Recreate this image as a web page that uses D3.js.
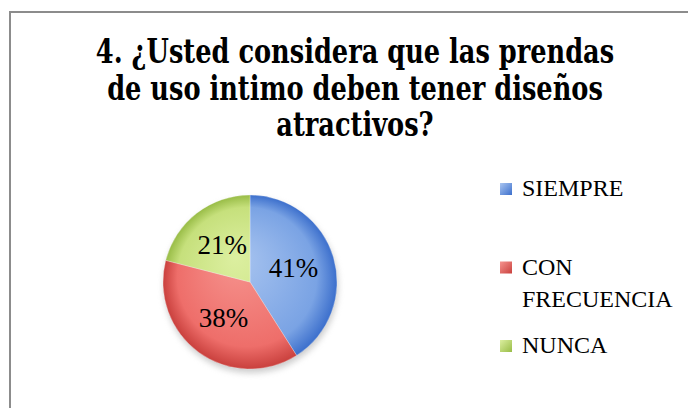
<!DOCTYPE html>
<html>
<head>
<meta charset="utf-8">
<script src="https://cdn.jsdelivr.net/npm/d3@7"></script>
<style>
  body { margin: 0; background: #fff; }
  svg { display: block; }
</style>
</head>
<body>
<svg id="chart"></svg>
<script>
// data
var categories = ["SIEMPRE", "CON FRECUENCIA", "NUNCA"];
var percents = [41, 38, 21];
var legendLines = [["SIEMPRE"], ["CON", "FRECUENCIA"], ["NUNCA"]];
var titleLines = [
    "4. ¿Usted considera que las prendas",
    "de uso intimo deben tener diseños",
    "atractivos?"
];
// light / mid / dark tone for each slice
var lightColors = ["#a9c5f0", "#f6948f", "#dcefa0"];
var midColors = ["#7aa3e4", "#ee6e6a", "#c6e07c"];
var darkColors = ["#3c6fcc", "#c9403d", "#98bc46"];

var width = 688,
    height = 408,
    cx = 250,
    cy = 282,
    radius = 87;

var svg = d3.select("#chart")
    .attr("width", width)
    .attr("height", height);

var defs = svg.append("defs");

// chart border (right and bottom edge run off the picture)
svg.append("rect")
    .attr("x", 10)
    .attr("y", 12)
    .attr("width", 700)
    .attr("height", 420)
    .style("fill", "#fff")
    .style("stroke", "#8c8c8c")
    .style("stroke-width", 2);

// title: one text per line, stretched a bit upward like the narrow bold face
var titleY = d3.scaleLinear().domain([0, 1]).range([63, 99.5]);

var title = svg.selectAll("text.title")
    .data(titleLines)
    .enter()
    .append("text")
    .attr("class", "title")
    .attr("transform", function (d, i) { return "translate(355," + titleY(i) + ") scale(1,1.15)"; })
    .attr("text-anchor", "middle")
    .style("font-family", "'DejaVu Serif Condensed', 'DejaVu Serif', serif")
    .style("font-stretch", "condensed")
    .style("font-weight", "bold")
    .style("font-size", "28px")
    .style("fill", "#000")
    .text(function (d) { return d; });

// fit first title line to the ~518px it takes in the picture
var first = title.node().getComputedTextLength();
if (first > 0) {
    title.style("font-size", (28 * 518 / first).toFixed(2) + "px");
}

// soft shadow under the pie
var blur = defs.append("filter")
    .attr("id", "shadow")
    .attr("x", "-30%").attr("y", "-30%")
    .attr("width", "160%").attr("height", "160%");
blur.append("feGaussianBlur").attr("stdDeviation", 3);

var pieData = d3.pie()
    .sort(null)
    .value(function (d) { return d; })(percents);

var arc = d3.arc().innerRadius(0).outerRadius(radius);
var labelArc = d3.arc().innerRadius(radius * 0.52).outerRadius(radius * 0.52);

var g = svg.append("g")
    .attr("transform", "translate(" + cx + "," + cy + ")");

g.append("circle")
    .attr("cx", 1)
    .attr("cy", 4)
    .attr("r", radius)
    .style("fill", "#9a9a9a")
    .style("opacity", 0.5)
    .attr("filter", "url(#shadow)");

percents.forEach(function (p, i) {
    var grad = defs.append("radialGradient")
        .attr("id", "grad" + i)
        .attr("gradientUnits", "userSpaceOnUse")
        .attr("cx", 0)
        .attr("cy", 0)
        .attr("fx", -15)
        .attr("fy", -25)
        .attr("r", radius);
    grad.append("stop").attr("offset", "0%").attr("stop-color", lightColors[i]);
    grad.append("stop").attr("offset", "80%").attr("stop-color", midColors[i]);
    grad.append("stop").attr("offset", "100%").attr("stop-color", darkColors[i]);
});

g.selectAll("path.slice")
    .data(pieData)
    .enter()
    .append("path")
    .attr("class", "slice")
    .attr("d", arc)
    .style("fill", function (d, i) { return "url(#grad" + i + ")"; })
    .style("stroke", "rgba(255,255,255,0.35)")
    .style("stroke-width", 0.8);

g.selectAll("text.label")
    .data(pieData)
    .enter()
    .append("text")
    .attr("class", "label")
    .attr("transform", function (d) { return "translate(" + labelArc.centroid(d) + ")"; })
    .attr("dy", "0.3em")
    .attr("text-anchor", "middle")
    .style("font-family", "'Liberation Serif', 'Times New Roman', serif")
    .style("font-size", "27px")
    .style("fill", "#000")
    .text(function (d) { return d.data + "%"; });

// legend
var legendY = d3.scalePoint()
    .domain(categories)
    .range([196, 353]);

var legend = svg.selectAll("g.legend")
    .data(categories)
    .enter()
    .append("g")
    .attr("class", "legend")
    .attr("transform", function (d) { return "translate(500," + legendY(d) + ")"; });

categories.forEach(function (c, i) {
    var sq = defs.append("linearGradient")
        .attr("id", "sq" + i)
        .attr("x1", 0).attr("y1", 0).attr("x2", 1).attr("y2", 1);
    sq.append("stop").attr("offset", "0%").attr("stop-color", lightColors[i]);
    sq.append("stop").attr("offset", "100%").attr("stop-color", darkColors[i]);
});

legend.append("rect")
    .attr("x", 0)
    .attr("y", -13)
    .attr("width", 12)
    .attr("height", 12)
    .style("fill", function (d, i) { return "url(#sq" + i + ")"; });

legend.append("text")
    .attr("x", 22)
    .attr("y", 0)
    .style("font-family", "'Liberation Serif', 'Times New Roman', serif")
    .style("font-size", "24px")
    .style("fill", "#000")
    .selectAll("tspan")
    .data(function (d, i) { return legendLines[i]; })
    .enter()
    .append("tspan")
    .attr("x", 22)
    .attr("dy", function (d, i) { return i === 0 ? 0 : 32; })
    .text(function (d) { return d; });
</script>
</body>
</html>
